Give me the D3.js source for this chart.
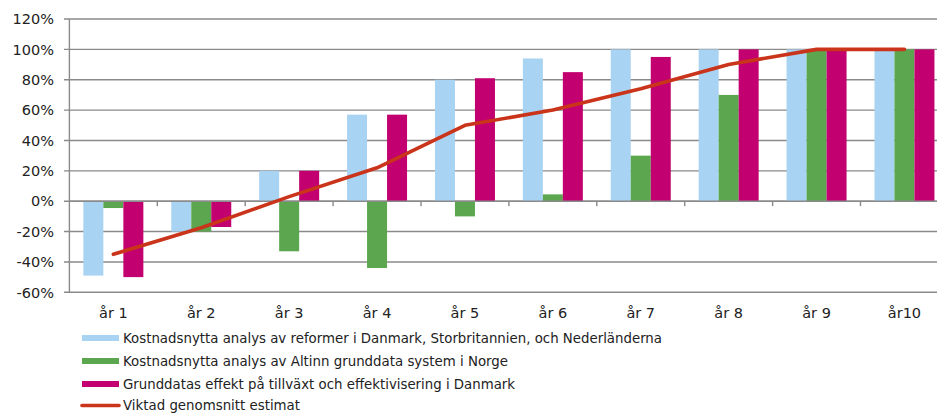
<!DOCTYPE html>
<html><head><meta charset="utf-8">
<script src="https://cdn.jsdelivr.net/npm/d3@7"></script>
<style>
html,body{margin:0;padding:0;background:#fff;overflow:hidden;}
svg{display:block;}
text{font-family:"DejaVu Sans",Verdana,sans-serif;fill:#222;}
</style></head>
<body>
<svg id="chart" width="937" height="414"></svg>
<script>
const categories = ["år 1","år 2","år 3","år 4","år 5","år 6","år 7","år 8","år 9","år10"];
const seriesNames = [
  "Kostnadsnytta analys av reformer i Danmark, Storbritannien, och Nederländerna",
  "Kostnadsnytta analys av Altinn grunddata system i Norge",
  "Grunddatas effekt på tillväxt och effektivisering i Danmark"
];
const lineName = "Viktad genomsnitt estimat";
const reformer = [-49, -20, 20, 57, 80, 94, 100, 100, 100, 100];
const altinn   = [-4.5, -20, -33, -44, -10, 4.5, 30, 70, 100, 100];
const grunddata= [-50, -17, 20, 57, 81, 85, 95, 100, 100, 100];
const viktad   = [-35, -17.5, 3, 22, 50, 60, 74, 90, 100, 100];
const yTicks = [-60, -40, -20, 0, 20, 40, 60, 80, 100, 120];

const barSeries = [reformer, altinn, grunddata];
const colors = ["#A9D3F3", "#5CA64F", "#C2006F"];
const lineColor = "#C9341A";
const gridColor = "#8A8A8A";

const svg = d3.select("#chart");
const x0 = d3.scaleBand().domain(categories).range([69.4, 948.4]).paddingInner(0).paddingOuter(0);
const x1 = d3.scaleBand().domain([0,1,2]).range([0, x0.bandwidth()]).paddingInner(0).paddingOuter(0.6975);
const y = d3.scaleLinear().domain([-60, 120]).range([292.3, 19]);

// gridlines
svg.append("g").selectAll("line").data(yTicks).join("line")
  .attr("x1", 64).attr("x2", 937)
  .attr("y1", d => y(d)).attr("y2", d => y(d))
  .attr("stroke", gridColor).attr("stroke-width", 1.4);

// y axis line
svg.append("line").attr("x1", 69.4).attr("x2", 69.4).attr("y1", y(120)).attr("y2", y(-60))
  .attr("stroke", gridColor).attr("stroke-width", 1.4);

// y labels
svg.append("g").selectAll("text").data(yTicks).join("text")
  .attr("x", 54).attr("y", d => y(d)).attr("dy", "0.36em")
  .attr("text-anchor", "end").style("font-size", "14.5px")
  .text(d => d + "%");

// bars
const rows = categories.map((c, i) => ({c, vals: barSeries.map(s => s[i])}));
const g = svg.append("g").selectAll("g").data(rows).join("g")
  .attr("transform", d => `translate(${x0(d.c)},0)`);
g.selectAll("rect").data(d => d.vals.map((v, k) => ({v, k}))).join("rect")
  .attr("x", d => x1(d.k)).attr("width", x1.bandwidth())
  .attr("y", d => y(Math.max(0, d.v)))
  .attr("height", d => Math.abs(y(d.v) - y(0)))
  .attr("fill", d => colors[d.k]);

// x axis at zero
svg.append("line").attr("x1", 69.4).attr("x2", 937).attr("y1", y(0)).attr("y2", y(0))
  .attr("stroke", gridColor).attr("stroke-width", 1.4);
const bounds = categories.slice(1).map(c => x0(c));
svg.append("g").selectAll("line").data(bounds).join("line")
  .attr("x1", d => d).attr("x2", d => d).attr("y1", y(0)).attr("y2", y(0) + 5)
  .attr("stroke", gridColor).attr("stroke-width", 1.4);

// category labels
svg.append("g").selectAll("text").data(categories).join("text")
  .attr("x", d => x0(d) + x0.bandwidth() / 2).attr("y", 313).attr("dy", "0.36em")
  .attr("text-anchor", "middle").style("font-size", "14.5px")
  .text(d => d);

// line
const line = d3.line()
  .x((d, i) => x0(categories[i]) + x0.bandwidth() / 2)
  .y(d => y(d))
  .curve(d3.curveLinear);
svg.append("path").datum(viktad).attr("d", line)
  .attr("fill", "none").attr("stroke", lineColor).attr("stroke-width", 3.6)
  .attr("stroke-linecap", "round").attr("stroke-linejoin", "round");

// legend
const legendY = [338, 361, 384, 405.5];
const legendLen = [539, 385, 392, 177];
const leg = svg.append("g");
seriesNames.forEach((n, i) => {
  leg.append("rect").attr("x", 82).attr("y", legendY[i] - 3).attr("width", 37).attr("height", 6).attr("fill", colors[i]);
});
leg.append("line").attr("x1", 82).attr("x2", 119).attr("y1", legendY[3]).attr("y2", legendY[3])
  .attr("stroke", lineColor).attr("stroke-width", 3.6).attr("stroke-linecap", "round");
[...seriesNames, lineName].forEach((n, i) => {
  leg.append("text").attr("x", 123).attr("y", legendY[i]).attr("dy", "0.36em")
    .style("font-size", i === 3 ? "13.5px" : "14px")
    .attr("textLength", legendLen[i]).attr("lengthAdjust", "spacingAndGlyphs")
    .text(n);
});
</script>
</body></html>
